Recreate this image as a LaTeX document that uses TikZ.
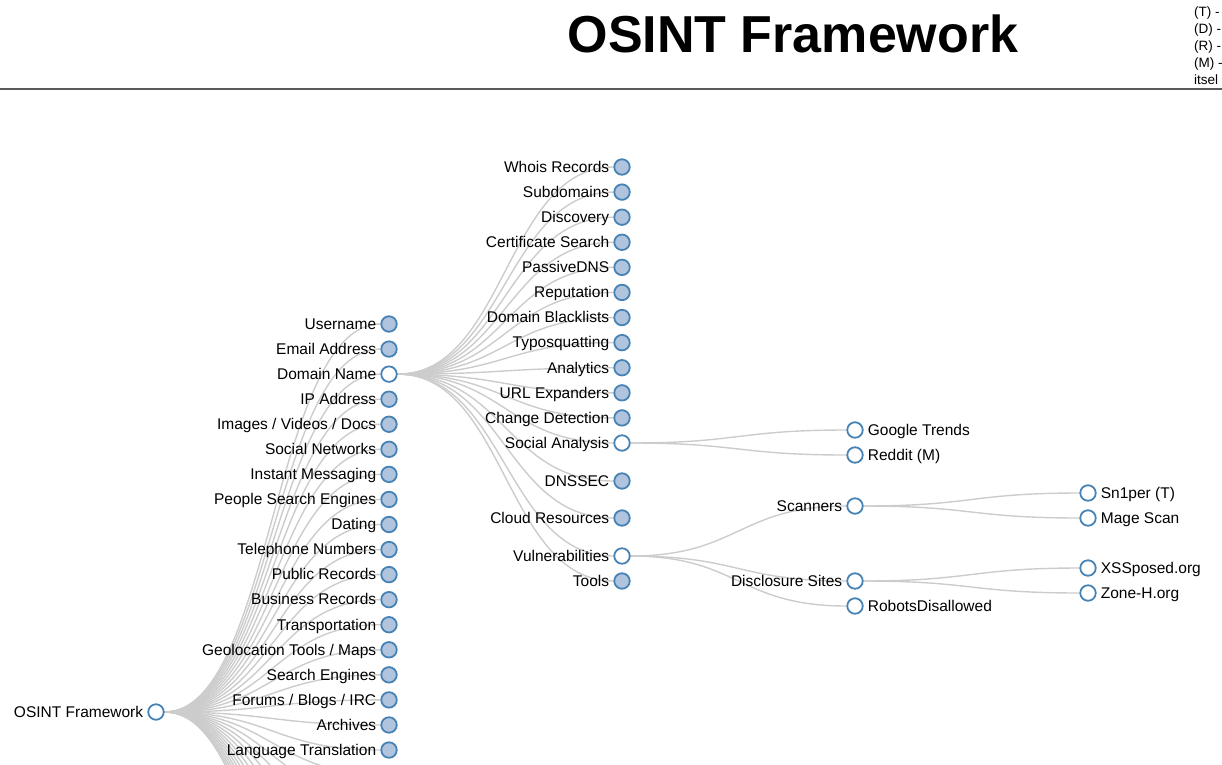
\documentclass[tikz,border=0pt]{standalone}
\usepackage{fontspec}
\setmainfont{Liberation Sans}
\usetikzlibrary{calc,backgrounds}
\definecolor{steel}{HTML}{4682B4}
\definecolor{lsteel}{HTML}{B0C4DE}
\definecolor{linkgray}{HTML}{CCCCCC}

\begin{document}
\begin{tikzpicture}[x=1pt,y=-1pt,
	font=\fontsize{15.5}{18}\selectfont,
	every label/.style={inner sep=0pt,text height=.7em,text depth=0pt,yshift=-1.8pt},
	label distance=4pt,
	folded/.style={circle,draw=steel,fill=lsteel,line width=1.8pt,
		minimum size=15.5pt,inner sep=0pt},
	unfolded/.style={folded,fill=white},
	legend/.style={font=\fontsize{13.5}{16}\selectfont,inner sep=0pt,anchor=base west},
	link/.style={draw=linkgray,line width=1.4pt,
		to path={let \p1=(\tikztostart),\p2=(\tikztotarget) in
			.. controls ({(\x1+\x2)/2},\y1) and ({(\x1+\x2)/2},\y2) .. (\tikztotarget)}}]
	\useasboundingbox (0,0) rectangle (1222,764);
	\clip (0,0) rectangle (1222,764);
	% header
	\node[font=\fontsize{52}{60}\selectfont\bfseries,anchor=base] (title) at (793,52) {OSINT Framework};
	\draw[black!65,line width=2pt] (0,89) -- (1222,89);
	\foreach \t [count=\i] in {{(T) -},{(D) -},{(R) -},{(M) -},itsel}
		\node[legend] (leg\i) at (1194,{16+17*(\i-1)}) {\t};
	% root and first level
	\node[unfolded,label=left:OSINT Framework] (osint) at (156,712) {};
	\foreach \nm/\st/\txt [count=\i from 0] in {
		user/folded/Username, email/folded/Email Address, domain/unfolded/Domain Name,
		ip/folded/IP Address, img/folded/{Images / Videos / Docs}, socnet/folded/Social Networks,
		im/folded/Instant Messaging, people/folded/People Search Engines, dating/folded/Dating,
		phone/folded/Telephone Numbers, pubrec/folded/Public Records, busrec/folded/Business Records,
		transp/folded/Transportation, geo/folded/{Geolocation Tools / Maps}, search/folded/Search Engines,
		forums/folded/{Forums / Blogs / IRC}, archives/folded/Archives, lang/folded/Language Translation}
		\node[\st,label={left:\txt}] (\nm) at (389,{324+25.06*\i}) {};
	\foreach \i in {18,...,31}
		\coordinate (more\i) at (389,{324+25.06*\i});
	% domain name
	\foreach \nm/\st/\txt [count=\i from 0] in {
		whois/folded/Whois Records, subdom/folded/Subdomains, disc/folded/Discovery,
		cert/folded/Certificate Search, pdns/folded/PassiveDNS, rep/folded/Reputation,
		blk/folded/Domain Blacklists, typo/folded/Typosquatting, analytics/folded/Analytics,
		urlexp/folded/URL Expanders, change/folded/Change Detection, social/unfolded/Social Analysis}
		\node[\st,label={left:\txt}] (\nm) at (622,{167+25.09*\i}) {};
	\node[folded,label=left:DNSSEC] (dnssec) at (622,481) {};
	\node[folded,label=left:Cloud Resources] (cloud) at (622,518) {};
	\node[unfolded,label=left:Vulnerabilities] (vuln) at (622,556) {};
	\node[folded,label=left:Tools] (tools) at (622,581) {};
	% deeper levels
	\node[unfolded,label=right:Google Trends] (gtrends) at (855,430) {};
	\node[unfolded,label=right:Reddit (M)] (reddit) at (855,455) {};
	\node[unfolded,label=left:Scanners] (scan) at (855,506) {};
	\node[unfolded,label=left:Disclosure Sites] (discl) at (855,581) {};
	\node[unfolded,label=right:RobotsDisallowed] (robots) at (855,606) {};
	\node[unfolded,label=right:Sn1per (T)] (sniper) at (1088,493) {};
	\node[unfolded,label=right:Mage Scan] (mage) at (1088,518) {};
	\node[unfolded,label=right:XSSposed.org] (xss) at (1088,568) {};
	\node[unfolded,label=right:Zone-H.org] (zoneh) at (1088,593) {};
	% links
	\begin{pgfonlayer}{background}
	\foreach \nm in {user,email,domain,ip,img,socnet,im,people,dating,phone,pubrec,
		busrec,transp,geo,search,forums,archives,lang}
		\path (osint) edge[link] (\nm);
	\foreach \i in {18,...,31}
		\path (osint) edge[link] (more\i);
	\foreach \nm in {whois,subdom,disc,cert,pdns,rep,blk,typo,analytics,urlexp,change,
		social,dnssec,cloud,vuln,tools}
		\path (domain) edge[link] (\nm);
	\path (social) edge[link] (gtrends) edge[link] (reddit);
	\path (vuln) edge[link] (scan) edge[link] (discl) edge[link] (robots);
	\path (scan) edge[link] (sniper) edge[link] (mage);
	\path (discl) edge[link] (xss) edge[link] (zoneh);
	\end{pgfonlayer}
\end{tikzpicture}
\end{document}
